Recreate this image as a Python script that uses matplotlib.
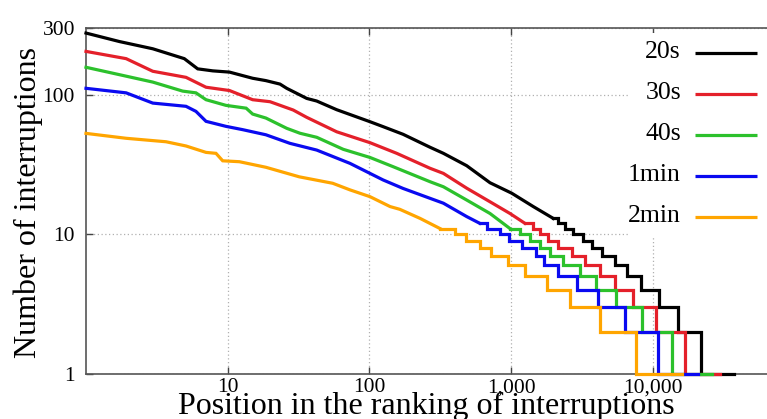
import matplotlib
matplotlib.use("Agg")
import matplotlib.pyplot as plt
from matplotlib.patches import Rectangle
from matplotlib.ticker import FixedLocator, FixedFormatter, NullLocator

# ---------------- data ----------------
labels = ["20s", "30s", "40s", "1min", "2min"]
colors = ["#000000", "#e4202a", "#2cc12c", "#0a0af0", "#ffa500"]

# smooth upper part of each ranking curve (rank, number of interruptions)
s20_head_rank = [1, 1.72, 2.96, 4.94, 6.14, 7.84, 10.3, 15, 18.6, 23.4, 26.1, 36.1, 42.5, 58.8,
                 101, 125, 173, 268, 333, 486, 710, 1010, 1435, 1985]
s20_head_cnt = [276, 240, 213, 181, 153, 148, 145, 131, 126, 119, 111, 94, 90, 78,
                64, 59, 52, 42, 38, 31, 23.4, 19.7, 15.8, 13]
# integer step part: rank where each count level starts
s20_tail_rank = [1985, 2150, 2410, 2750, 3235, 3705, 4355, 5410, 6540, 8300, 11070, 15080, 21900, 37400]
s20_tail_cnt = [13, 12, 11, 10, 9, 8, 7, 6, 5, 4, 3, 2, 1, 1]

s30_head_rank = [1, 1.92, 2.96, 5.08, 7.03, 10.3, 15, 19.9, 29, 36.1, 58.8, 101, 156, 268, 333,
                 486, 710, 982, 1250]
s30_head_cnt = [204, 181, 147, 133, 113, 107, 92, 89, 77.6, 68.8, 54.2, 45.3, 38, 29.7, 27.3,
                21.4, 17.1, 14.1, 12]
s30_tail_rank = [1250, 1430, 1600, 1830, 2150, 2690, 3300, 4240, 5410, 7250, 10500, 16900, 29800]
s30_tail_cnt = [12, 11, 10, 9, 8, 7, 6, 5, 4, 3, 2, 1, 1]

s40_head_rank = [1, 1.72, 2.96, 4.81, 5.97, 7.03, 9.72, 13.5, 15, 18.6, 26.1, 32.4, 42.5, 65.4,
                 101, 147, 268, 333, 486, 710, 982]
s40_head_cnt = [157, 139, 123, 106, 103, 92, 83.8, 80, 72.6, 68, 57.4, 52.9, 49.5, 40.6,
                35.5, 30.5, 23.8, 21.9, 17.6, 14.1, 11]
s40_tail_rank = [982, 1150, 1350, 1600, 1870, 2320, 3060, 3950, 5530, 8340, 13600, 26000]
s40_tail_cnt = [11, 10, 9, 8, 7, 6, 5, 4, 3, 2, 1, 1]

s1m_head_rank = [1, 1.92, 2.96, 5.08, 5.97, 7.03, 9.72, 12.8, 18.6, 27.5, 42.5, 73, 125, 173,
                 268, 333, 486, 600]
s1m_head_cnt = [111, 103, 87, 82.5, 75.9, 64.4, 59.3, 56.1, 51.6, 44.8, 40.1, 32.2, 24.5, 21.3,
                18.1, 16.7, 13.4, 12]
s1m_tail_rank = [600, 680, 830, 960, 1200, 1500, 1700, 2150, 2900, 4130, 6370, 10800, 21000]
s1m_tail_cnt = [12, 11, 10, 9, 8, 7, 6, 5, 4, 3, 2, 1, 1]

s2m_head_rank = [1, 1.92, 3.67, 5.08, 7.03, 8.27, 9.22, 12.1, 18.6, 32, 55.1, 73, 101, 140, 164,
                 228, 315]
s2m_head_cnt = [52.8, 48.7, 46, 42.9, 38.6, 38, 33.6, 33.1, 30.2, 25.8, 23.2, 20.8, 18.6, 15.8,
                15.1, 13, 11]
s2m_tail_rank = [315, 400, 480, 600, 720, 950, 1250, 1790, 2600, 4240, 7650, 16000]
s2m_tail_cnt = [11, 10, 9, 8, 7, 6, 5, 4, 3, 2, 1, 1]

x_ticks = [10, 100, 1000, 10000]
x_tick_labels = ["10", "100", "1,000", "10,000"]
y_ticks = [1, 10, 100, 300]
y_tick_labels = ["1", "10", "100", "300"]

series = [
    (s20_head_rank, s20_head_cnt, s20_tail_rank, s20_tail_cnt),
    (s30_head_rank, s30_head_cnt, s30_tail_rank, s30_tail_cnt),
    (s40_head_rank, s40_head_cnt, s40_tail_rank, s40_tail_cnt),
    (s1m_head_rank, s1m_head_cnt, s1m_tail_rank, s1m_tail_cnt),
    (s2m_head_rank, s2m_head_cnt, s2m_tail_rank, s2m_tail_cnt),
]

# ---------------- figure ----------------
plt.rcParams["font.family"] = ["Liberation Serif", "DejaVu Serif"]
W, H = 767, 419
fig = plt.figure(figsize=(W / 100, H / 100), dpi=100)
ax = fig.add_axes([86 / W, (H - 374) / H, (W - 86) / W, (374 - 28) / H])

ax.set_xscale("log")
ax.set_yscale("log")
ax.set_xlim(1, 64000)
ax.set_ylim(1, 300)

lw = 2.3
for (hr, hc, tr, tc), col in zip(series, colors):
    ax.plot(hr, hc, color=col, lw=lw, zorder=3, clip_on=False, solid_joinstyle="miter")
    ax.step(tr, tc, where="post", color=col, lw=lw, zorder=3, clip_on=False,
            solid_joinstyle="miter")

ax.xaxis.set_major_locator(FixedLocator(x_ticks))
ax.xaxis.set_major_formatter(FixedFormatter(x_tick_labels))
ax.yaxis.set_major_locator(FixedLocator(y_ticks))
ax.yaxis.set_major_formatter(FixedFormatter(y_tick_labels))
ax.xaxis.set_minor_locator(NullLocator())
ax.yaxis.set_minor_locator(NullLocator())

ax.tick_params(which="major", direction="in", length=5, width=1, color="#444444",
               labelsize=15.5, top=True, right=False)
ax.tick_params(axis="y", pad=8)
ax.tick_params(axis="x", pad=3)

ax.set_axisbelow(True)
ax.grid(True, which="major", color="#b0b0b0", linestyle=(0, (1, 2)), linewidth=0.9)

for sp in ["left", "bottom", "top"]:
    ax.spines[sp].set_color("#555555")
    ax.spines[sp].set_linewidth(1.2)
ax.spines["right"].set_visible(False)

# legend box (opaque, hides grid), drawn manually in axes coordinates
def ax_xy(px, py):
    return ((px - 86) / (W - 86), (374 - py) / (374 - 28))

x0, y0 = ax_xy(628, 237)
x1, y1 = ax_xy(W + 5, 33)
ax.add_patch(Rectangle((x0, y0), x1 - x0, y1 - y0, transform=ax.transAxes,
                       facecolor="white", edgecolor="none", zorder=1.2, clip_on=False))

row_y = [53, 94, 135, 176, 217]
for lab, col, py in zip(labels, colors, row_y):
    tx, ty = ax_xy(681, py + 5)
    ax.text(tx, ty, lab, transform=ax.transAxes, ha="right", va="baseline",
            fontsize=18.5, zorder=4)
    lx0, ly = ax_xy(695, py)
    lx1, _ = ax_xy(757, py)
    ax.plot([lx0, lx1], [ly, ly], transform=ax.transAxes, color=col, lw=lw,
            zorder=4, clip_on=False, solid_capstyle="butt")

fig.text(28 / W, (H - 202) / H, "Number of interruptions", rotation=90,
         ha="center", va="center", fontsize=23)
fig.text((86 + W) / 2 / W, (H - 414) / H, "Position in the ranking of interruptions",
         ha="center", va="baseline", fontsize=23)

fig.savefig("out.png", dpi=100)
